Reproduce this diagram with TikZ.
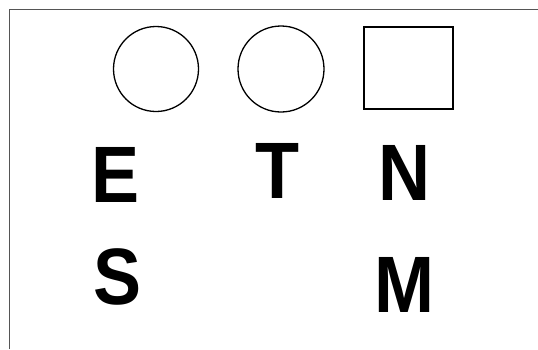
\documentclass[tikz,border=0pt]{standalone}
\usepackage{fontspec}
\setmainfont{Liberation Sans}
\newfontfamily\letterfont[FakeStretch=0.9]{Liberation Sans}
\begin{document}
\begin{tikzpicture}[x=1pt,y=-1pt,
  shapebox/.style={draw=black,line width=1.3pt,inner sep=0pt},
  letter/.style={anchor=base,inner sep=0pt,font=\letterfont\fontsize{80}{80}\selectfont\bfseries}]
\useasboundingbox[fill=white] (0,0) rectangle (538,349);
\draw[draw={rgb,255:red,85;green,85;blue,85},line width=1pt] (9,349) -- (9,9.5) -- (538,9.5);
\node[shapebox,circle,minimum size=85pt] (c1) at (156,69) {};
\node[shapebox,circle,minimum size=86pt] (c2) at (281,69) {};
\node[shapebox,rectangle,minimum width=89pt,minimum height=82pt] (sq) at (408.5,68) {};
\node[letter] (E) at (115.5,202) {E};
\node[letter] (T) at (277.5,198) {T};
\node[letter] (N) at (404.5,200) {N};
\node[letter] (S) at (117.5,304) {S};
\node[letter] (M) at (404,312) {M};
\end{tikzpicture}
\end{document}
